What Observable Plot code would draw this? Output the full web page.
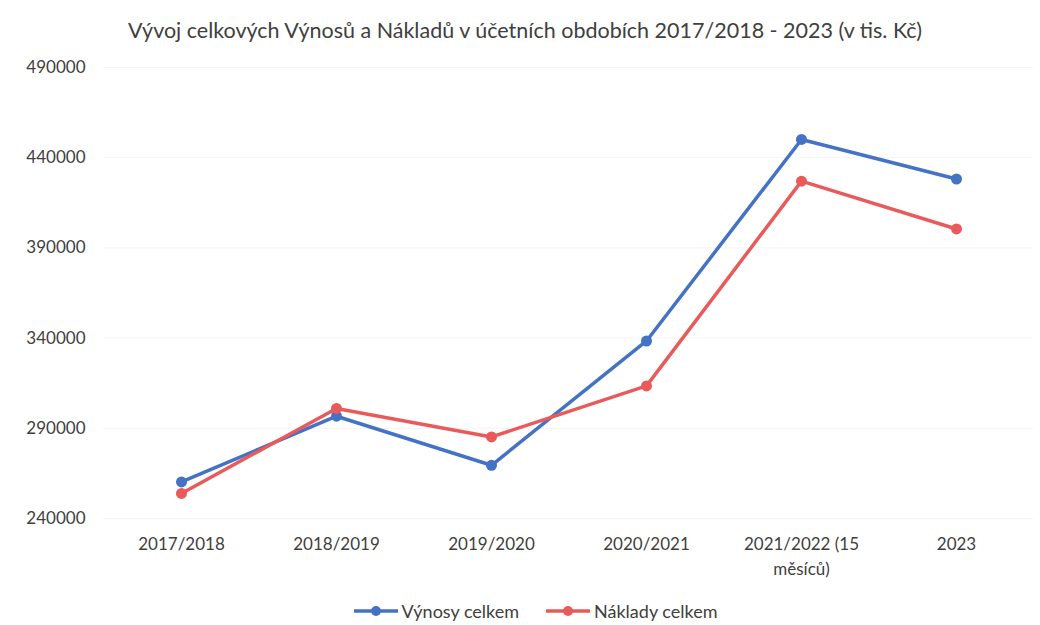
<!DOCTYPE html>
<html>
<head>
<meta charset="utf-8">
<script src="https://cdn.jsdelivr.net/npm/d3@7"></script>
<script src="https://cdn.jsdelivr.net/npm/@observablehq/plot@0.6"></script>
<style>
  body { margin: 0; background: #fff; font-family: Lato, "Open Sans", sans-serif; color: #404040; }
  #wrap { width: 1040px; height: 625px; position: relative; overflow: hidden; }
  #title { height: 50px; line-height: 60px; text-align: center; font-size: 21.5px; color: #404040; padding-left: 10px; }
  #legend { position: absolute; top: 600px; left: 0; width: 1040px; font-size: 18px; display: flex; justify-content: center; gap: 26px; padding-left: 30px; box-sizing: border-box; }
  .item { display: flex; align-items: center; gap: 3px; }
</style>
</head>
<body>
<div id="wrap">
  <div id="title">Vývoj celkových Výnosů a Nákladů v účetních obdobích 2017/2018 - 2023 (v tis. Kč)</div>
  <div id="chart"></div>
  <div id="legend"></div>
</div>
<script>
const periods = ["2017/2018", "2018/2019", "2019/2020", "2020/2021", "2021/2022 (15 měsíců)", "2023"];
const periodLabels = ["2017/2018", "2018/2019", "2019/2020", "2020/2021", "2021/2022 (15\nměsíců)", "2023"];
const vynosy = [260300, 296700, 269500, 338400, 450100, 428200];
const naklady = [253900, 301000, 285200, 313500, 427000, 400500];
const seriesNames = ["Výnosy celkem", "Náklady celkem"];
const seriesColors = ["#4472c4", "#e95a5b"];
const yTicks = [240000, 290000, 340000, 390000, 440000, 490000];

const data = [];
periods.forEach((p, i) => {
  data.push({period: p, value: vynosy[i], series: seriesNames[0]});
  data.push({period: p, value: naklady[i], series: seriesNames[1]});
});
const labelOf = new Map(periods.map((p, i) => [p, periodLabels[i]]));

const chart = Plot.plot({
  width: 1040,
  height: 535,
  marginTop: 17,
  marginBottom: 67,
  marginLeft: 103,
  marginRight: 7,
  style: {fontFamily: "Lato, 'Open Sans', sans-serif", fontSize: "17px", color: "#404040", background: "#fff"},
  x: {type: "point", domain: periods, padding: 0.5},
  y: {domain: [240000, 490000]},
  color: {domain: seriesNames, range: seriesColors},
  marks: [
    Plot.ruleY(yTicks, {stroke: "#f4f4f4", strokeWidth: 1}),
    Plot.axisX({label: null, tickSize: 0, tickPadding: 14, fontSize: 17, lineHeight: 1.45, tickFormat: d => labelOf.get(d), fill: "#404040"}),
    Plot.axisY({ticks: yTicks, label: null, tickSize: 0, tickPadding: 18, fontSize: 17, tickFormat: d => String(d), fill: "#404040"}),
    Plot.line(data, {x: "period", y: "value", z: "series", stroke: "series", strokeWidth: 3.5, strokeLinejoin: "round", strokeLinecap: "round"}),
    Plot.dot(data, {x: "period", y: "value", fill: "series", r: 5.5, stroke: "none"})
  ]
});
document.getElementById("chart").appendChild(chart);

const legend = document.getElementById("legend");
seriesNames.forEach((name, i) => {
  const item = document.createElement("div");
  item.className = "item";
  const ns = "http://www.w3.org/2000/svg";
  const svg = document.createElementNS(ns, "svg");
  svg.setAttribute("width", 46); svg.setAttribute("height", 12);
  const line = document.createElementNS(ns, "line");
  line.setAttribute("x1", 1); line.setAttribute("x2", 45); line.setAttribute("y1", 6); line.setAttribute("y2", 6);
  line.setAttribute("stroke", seriesColors[i]); line.setAttribute("stroke-width", 3.5);
  const c = document.createElementNS(ns, "circle");
  c.setAttribute("cx", 23); c.setAttribute("cy", 6); c.setAttribute("r", 5); c.setAttribute("fill", seriesColors[i]);
  svg.appendChild(line); svg.appendChild(c);
  const span = document.createElement("span");
  span.textContent = name;
  item.appendChild(svg); item.appendChild(span);
  legend.appendChild(item);
});
</script>
</body>
</html>
